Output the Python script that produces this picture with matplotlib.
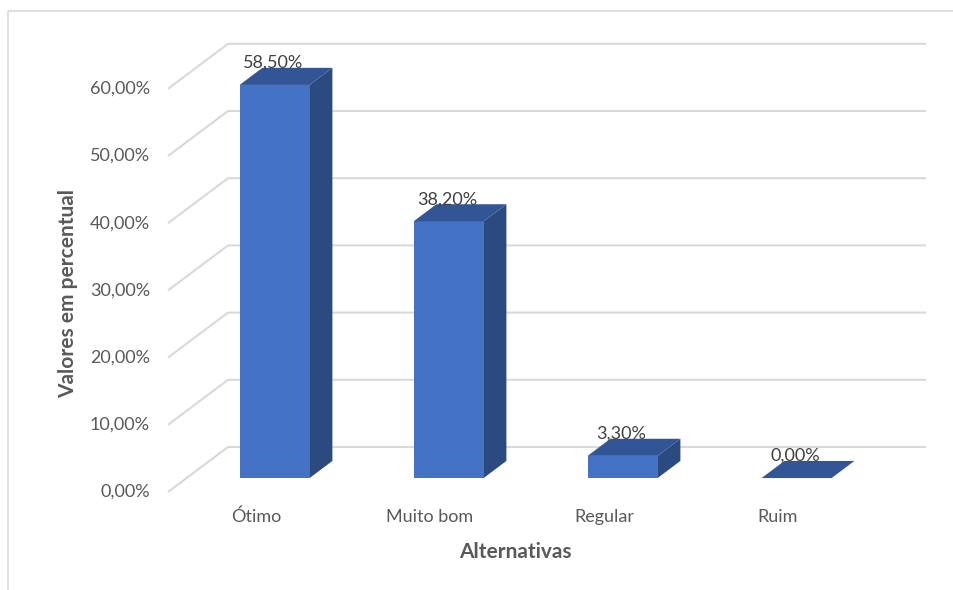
import matplotlib.pyplot as plt
from matplotlib.patches import Polygon, Rectangle

plt.rcParams['font.family'] = ['Lato', 'DejaVu Sans']

# dados da pesquisa
categorias = ['Ótimo', 'Muito bom', 'Regular', 'Ruim']
valores = [58.50, 38.20, 3.30, 0.00]
ticks = [0, 10, 20, 30, 40, 50, 60]

# cores estilo Excel (frente, topo, lateral)
cor_frente = '#4472C4'
cor_topo = '#325596'
cor_lado = '#2B4A80'
cor_grade = '#D9D9D9'
cor_texto = '#595959'

# projeção pseudo-3D em pixels
base_y = 492        # y do 0% na frente do piso
escala = 6.72       # pixels por ponto percentual
prof_dx, prof_dy = 60, -45
x_parede = 168
x_fim = 926
x0_cat, passo_cat = 221, 174
larg_barra = 70
d_frente, d_tras = 0.31, 0.69


def proj(x, v, d):
    return (x + prof_dx * d, base_y - escala * v + prof_dy * d)


fig = plt.figure(figsize=(9.54, 5.9), dpi=100)
ax = fig.add_axes([0, 0, 1, 1])
ax.set_xlim(0, 954)
ax.set_ylim(590, 0)
ax.axis('off')

# moldura do gráfico
ax.add_patch(Rectangle((8, 11), 960, 600, fill=False, edgecolor=cor_grade, lw=1.2))

# linhas de grade (parede lateral + parede do fundo)
for t in ticks:
    xa, ya = proj(x_parede, t, 0)
    xb, yb = proj(x_parede, t, 1)
    ax.plot([xa, xb, x_fim], [ya, yb, yb], color=cor_grade, lw=1.5,
            solid_capstyle='butt', zorder=1)
    ax.text(xa - 18, ya, f'{t:.2f}%'.replace('.', ','), ha='right', va='center',
            fontsize=13, color=cor_texto)

# barras
for i, (cat, v) in enumerate(zip(categorias, valores)):
    xl = x0_cat + passo_cat * i
    xr = xl + larg_barra
    fl = proj(xl, 0, d_frente)
    fr = proj(xr, 0, d_frente)
    tl = proj(xl, v, d_frente)
    tr = proj(xr, v, d_frente)
    btl = proj(xl, v, d_tras)
    btr = proj(xr, v, d_tras)
    bbr = proj(xr, 0, d_tras)
    if v > 0:
        ax.add_patch(Polygon([fr, bbr, btr, tr], closed=True, facecolor=cor_lado,
                             edgecolor='none', zorder=3))
        ax.add_patch(Polygon([fl, fr, tr, tl], closed=True, facecolor=cor_frente,
                             edgecolor='none', zorder=3))
    ax.add_patch(Polygon([tl, tr, btr, btl], closed=True, facecolor=cor_topo,
                         edgecolor='none', zorder=3))
    # rótulo de valor
    cx = (tl[0] + tr[0]) / 2 - 1
    ax.text(cx, btl[1] - 5, f'{v:.2f}%'.replace('.', ','), ha='center', va='center',
            fontsize=13, color='#404040', zorder=4)
    # rótulo da categoria
    ax.text((xl + xr) / 2, 517, cat, ha='center', va='center', fontsize=13,
            color=cor_texto)

# títulos dos eixos
ax.text(515, 552, 'Alternativas', ha='center', va='center', fontsize=15,
        fontweight='bold', color=cor_texto)
ax.text(68, 294, 'Valores em percentual', ha='center', va='center', rotation=90,
        fontsize=15, fontweight='bold', color=cor_texto)

fig.savefig('out.png', dpi=100)
